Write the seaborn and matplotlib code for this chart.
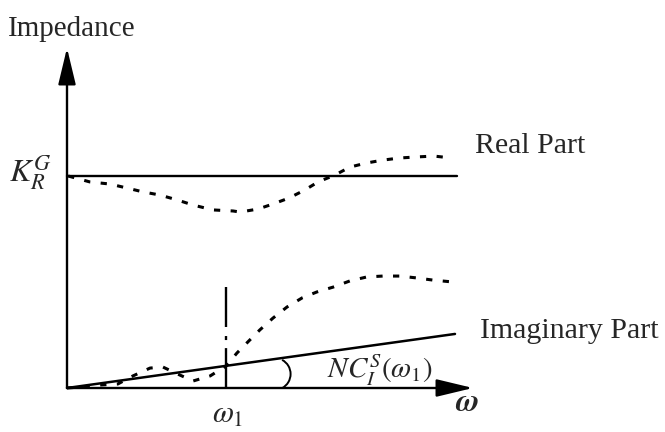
#!/usr/bin/env python3
"""
Impedance sketch: real / imaginary part vs frequency (schematic)
"""

import numpy as np
import pandas as pd
import matplotlib
matplotlib.use("Agg")
import matplotlib.pyplot as plt
import matplotlib.transforms as mtransforms
from matplotlib.patches import Arc
import seaborn as sns

# === Data (x in omega units, y relative to K_R^G) ===
real_dash_x = [0.03, 0.59, 1.11, 1.55, 1.96, 2.40, 2.84, 3.25, 3.76, 4.28, 4.46,
               4.92, 5.31, 5.72, 6.13, 6.47, 6.91, 7.29, 7.71, 8.14, 8.58, 9.02,
               9.46, 9.90]
real_dash_y = [1.0, 0.972, 0.962, 0.943, 0.925, 0.910, 0.887, 0.863, 0.840, 0.835, 0.830,
               0.844, 0.868, 0.896, 0.934, 0.972, 1.005, 1.042, 1.061, 1.075, 1.085, 1.090,
               1.094, 1.085]

imag_dash_x = [0.0, 0.38, 0.85, 1.31, 1.70, 2.14, 2.47, 2.91, 3.25, 3.69, 4.10,
               4.38, 4.66, 4.97, 5.31, 5.67, 6.06, 6.44, 6.86, 7.29, 7.73, 8.14,
               8.58, 9.02, 9.43, 9.95]
imag_dash_y = [0.0, 0.005, 0.014, 0.019, 0.057, 0.094, 0.099, 0.061, 0.033, 0.057, 0.104,
               0.165, 0.217, 0.274, 0.330, 0.382, 0.425, 0.453, 0.476, 0.505, 0.524, 0.528,
               0.528, 0.519, 0.509, 0.500]

real_solid_x = [0.0, 10.05]
real_solid_y = [1.0, 1.0]

imag_solid_x = [0.0, 10.0]
imag_solid_y = [0.0, 0.255]

omega1 = 4.10
omega1_top = 0.476

# === Plotting ===
sns.set_theme(style="white")
plt.rcParams["font.family"] = ["Liberation Serif", "DejaVu Serif"]
plt.rcParams["mathtext.fontset"] = "stix"
plt.rcParams["lines.scale_dashes"] = False

PX_X = 38.8   # pixels per x unit
PX_Y = 212.0  # pixels per y unit
X0, Y0 = 67, 388  # origin in pixels

fig = plt.figure(figsize=(6.65, 4.32), dpi=100)
ax = fig.add_axes([0, 0, 1, 1])
ax.set_xlim(-X0 / PX_X, (665 - X0) / PX_X)
ax.set_ylim((Y0 - 432) / PX_Y, Y0 / PX_Y)
ax.axis("off")

real_dash = pd.DataFrame({"w": real_dash_x, "z": real_dash_y})
imag_dash = pd.DataFrame({"w": imag_dash_x, "z": imag_dash_y})

dash_style = (0, (4.5, 7.5))
sns.lineplot(data=real_dash, x="w", y="z", ax=ax, color="black", lw=2.2,
             linestyle=dash_style, estimator=None, sort=False)
sns.lineplot(data=imag_dash, x="w", y="z", ax=ax, color="black", lw=2.2,
             linestyle=dash_style, estimator=None, sort=False)
sns.lineplot(x=real_solid_x, y=real_solid_y, ax=ax, color="black", lw=1.7,
             estimator=None)
sns.lineplot(x=imag_solid_x, y=imag_solid_y, ax=ax, color="black", lw=1.8,
             estimator=None)

# omega_1 marker: solid / dot / solid
sns.lineplot(x=[omega1, omega1], y=[omega1_top, 0.0], ax=ax, color="black", lw=1.7,
             linestyle=(0, (28.8, 6.5, 2.9, 5.8, 40)), estimator=None, sort=False)

# axes arrows
arrow = dict(arrowstyle="-|>,head_length=1.5,head_width=0.36", color="black",
             lw=1.7, mutation_scale=15, shrinkA=0, shrinkB=0)
ax.annotate("", xy=(0, (Y0 - 48) / PX_Y), xytext=(0, 0), arrowprops=arrow)
ax.annotate("", xy=((473 - X0) / PX_X, 0), xytext=(0, 0), arrowprops=arrow)

# angle mark
arc_tr = mtransforms.IdentityTransform() + mtransforms.ScaledTranslation(5.35, 0.066, ax.transData)
ax.add_patch(Arc((0, 0), 32, 32, theta1=-62, theta2=62, transform=arc_tr,
                 color="black", lw=1.4))

# labels
ax.text(-1.52, 1.66, "Impedance", fontsize=21, ha="left", va="baseline")
ax.text(-0.39, 1.014, r"$K_R^G$", fontsize=23, ha="right", va="center")
ax.text(10.52, 1.108, "Real Part", fontsize=21.5, ha="left", va="baseline")
ax.text(10.64, 0.236, "Imaginary Part", fontsize=21.5, ha="left", va="baseline")
ax.text(4.15, -0.165, r"$\omega_1$", fontsize=22, ha="center", va="baseline")
ax.text(10.31, -0.075, r"$\boldsymbol{\omega}$", fontsize=23, ha="center", va="center")
ax.text(8.07, 0.085, r"$NC_I^S(\omega_1)$", fontsize=21, ha="center", va="center")

fig.savefig("out.png", dpi=100)
plt.close(fig)
